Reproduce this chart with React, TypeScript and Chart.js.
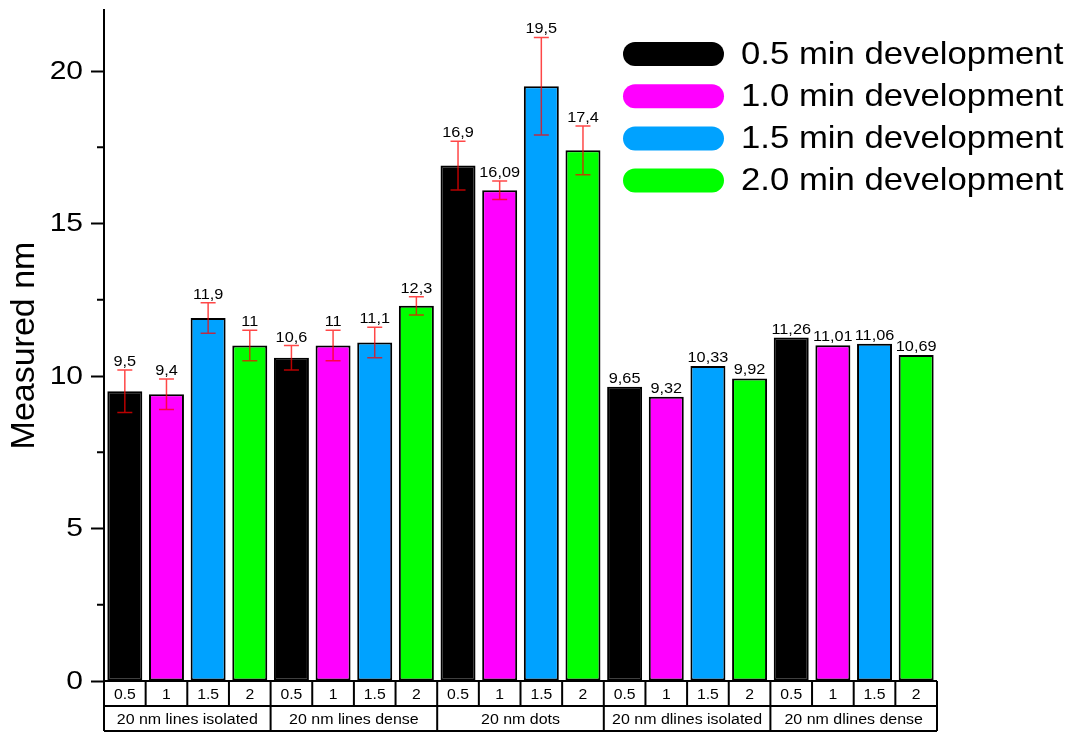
import React, { useEffect, useRef } from 'react';
import { Chart, registerables } from 'chart.js';

Chart.register(...registerables);

// Sample groups and development times
const groups = [
  '20 nm lines isolated',
  '20 nm lines dense',
  '20 nm dots',
  '20 nm dlines isolated',
  '20 nm dlines dense',
];
const devTimes = ['0.5', '1', '1.5', '2'];
const seriesNames = [
  '0.5 min development',
  '1.0 min development',
  '1.5 min development',
  '2.0 min development',
];
const seriesColors = ['#000000', '#ff00ff', '#00a2ff', '#00ff00'];

// Measured sizes (nm) per development time, one value per group
const dev05 = [9.5, 10.6, 16.9, 9.65, 11.26];
const dev10 = [9.4, 11, 16.09, 9.32, 11.01];
const dev15 = [11.9, 11.1, 19.5, 10.33, 11.06];
const dev20 = [11, 12.3, 17.4, 9.92, 10.69];

// Standard deviations (no error measured for the dline samples)
const err05 = [0.7, 0.4, 0.8, null, null];
const err10 = [0.5, 0.5, 0.3, null, null];
const err15 = [0.5, 0.5, 1.6, null, null];
const err20 = [0.5, 0.3, 0.8, null, null];

const yMin = 0;
const yMax = 22;
const yMajorTicks = [0, 5, 10, 15, 20];
const yMinorTicks = [2.5, 7.5, 12.5, 17.5];

const seriesValues = [dev05, dev10, dev15, dev20];
const seriesErrors = [err05, err10, err15, err20];

const FONT = '"Liberation Sans", Arial, Helvetica, sans-serif';

const fmt = (v: number) => String(v).replace('.', ',');

// Draws text stretched horizontally about its anchor
function stretchedText(ctx: CanvasRenderingContext2D, text: string, x: number, y: number, sx: number) {
  ctx.save();
  ctx.translate(x, y);
  ctx.scale(sx, 1);
  ctx.fillText(text, 0, 0);
  ctx.restore();
}

const annotationsPlugin = {
  id: 'annotations',
  afterDatasetsDraw(chart: any) {
    const { ctx, chartArea, scales } = chart;
    const y = scales.y;
    const x = scales.x;
    ctx.save();

    // Error bars and value labels
    seriesValues.forEach((vals, di) => {
      const meta = chart.getDatasetMeta(di);
      meta.data.forEach((bar: any, j: number) => {
        const v = vals[j];
        const e = seriesErrors[di][j];
        const cx = bar.x;
        let labelY = y.getPixelForValue(v);
        if (e != null) {
          const top = y.getPixelForValue(v + e);
          const bot = y.getPixelForValue(v - e);
          ctx.strokeStyle = 'rgba(255,0,0,0.72)';
          ctx.lineWidth = 1.5;
          ctx.beginPath();
          ctx.moveTo(cx, top);
          ctx.lineTo(cx, bot);
          ctx.moveTo(cx - 7.5, top);
          ctx.lineTo(cx + 7.5, top);
          ctx.moveTo(cx - 7.5, bot);
          ctx.lineTo(cx + 7.5, bot);
          ctx.stroke();
          labelY = top;
        }
        ctx.fillStyle = '#000';
        ctx.font = `15.5px ${FONT}`;
        ctx.textAlign = 'center';
        ctx.textBaseline = 'alphabetic';
        stretchedText(ctx, fmt(v), cx, labelY - 4, 1.05);
      });
    });

    // Category table under the axis
    const left = chartArea.left;
    const right = chartArea.right;
    const row0 = chartArea.bottom;
    const row1 = row0 + 25;
    const row2 = row1 + 25;
    const nGroups = groups.length;
    const nSub = devTimes.length;
    const groupW = (right - left) / nGroups;
    const subW = groupW / nSub;

    ctx.strokeStyle = '#000';
    ctx.lineWidth = 2;
    ctx.beginPath();
    ctx.moveTo(left, row0);
    ctx.lineTo(right, row0);
    ctx.moveTo(left, row1);
    ctx.lineTo(right, row1);
    ctx.moveTo(left, row2);
    ctx.lineTo(right, row2);
    for (let k = 0; k <= nGroups * nSub; k++) {
      const xx = left + k * subW;
      ctx.moveTo(xx, row0);
      ctx.lineTo(xx, row1);
    }
    for (let g = 0; g <= nGroups; g++) {
      const xx = left + g * groupW;
      ctx.moveTo(xx, row1);
      ctx.lineTo(xx, row2);
    }
    ctx.stroke();

    ctx.fillStyle = '#000';
    ctx.textAlign = 'center';
    ctx.textBaseline = 'middle';
    groups.forEach((g, gi) => {
      ctx.font = `15px ${FONT}`;
      devTimes.forEach((t, ti) => {
        const cx = left + gi * groupW + (ti + 0.5) * subW;
        stretchedText(ctx, t, cx, (row0 + row1) / 2 + 1, 1.05);
      });
      ctx.font = `15.5px ${FONT}`;
      stretchedText(ctx, g, x.getPixelForValue(gi), (row1 + row2) / 2 + 1, 1.03);
    });

    // Value axis: minor ticks and major tick labels
    ctx.beginPath();
    yMinorTicks.forEach((v) => {
      const py = y.getPixelForValue(v);
      ctx.moveTo(left - 7, py);
      ctx.lineTo(left, py);
    });
    ctx.stroke();

    ctx.font = `25px ${FONT}`;
    ctx.textAlign = 'right';
    ctx.textBaseline = 'middle';
    yMajorTicks.forEach((v) => {
      stretchedText(ctx, String(v), left - 21, y.getPixelForValue(v) + 1, 1.2);
    });

    // Legend with rounded swatches
    const legX = 623;
    const legW = 101;
    const legH = 24;
    const legY0 = 54;
    const legStep = 42.2;
    seriesNames.forEach((name, i) => {
      const cy = legY0 + i * legStep;
      ctx.fillStyle = seriesColors[i];
      ctx.beginPath();
      ctx.roundRect(legX, cy - legH / 2, legW, legH, legH / 2);
      ctx.fill();
      ctx.fillStyle = '#000';
      ctx.font = `32px ${FONT}`;
      ctx.textAlign = 'left';
      ctx.textBaseline = 'middle';
      stretchedText(ctx, name, 741, cy + 1, 1.085);
    });

    ctx.restore();
  },
};

export default function App() {
  const canvasRef = useRef<HTMLCanvasElement | null>(null);

  useEffect(() => {
    const canvas = canvasRef.current;
    if (!canvas) return;
    const chart = new Chart(canvas, {
      type: 'bar',
      data: {
        labels: groups,
        datasets: seriesValues.map((vals, i) => ({
          label: seriesNames[i],
          data: vals,
          backgroundColor: seriesColors[i],
          borderColor: '#000000',
          borderWidth: 2,
          borderSkipped: false,
          categoryPercentage: 1,
          barPercentage: 0.84,
        })),
      },
      options: {
        responsive: false,
        animation: false,
        devicePixelRatio: 1,
        layout: { padding: { left: 0, top: 10, right: 136, bottom: 52 } },
        plugins: {
          legend: { display: false },
          tooltip: { enabled: false },
        },
        scales: {
          x: {
            display: false,
          },
          y: {
            min: yMin,
            max: yMax,
            afterFit: (scale: any) => {
              scale.width = 104;
              scale.paddingTop = 0;
              scale.paddingBottom = 0;
            },
            border: { display: true, color: '#000', width: 2 },
            grid: {
              drawOnChartArea: false,
              drawTicks: true,
              tickLength: 13,
              tickWidth: 2,
              tickColor: '#000',
            },
            afterBuildTicks: (scale: any) => {
              scale.ticks = yMajorTicks.map((v) => ({ value: v }));
            },
            ticks: {
              display: false,
            },
            title: {
              display: true,
              text: 'Measured nm',
              color: '#000',
              font: { family: FONT, size: 34 },
              padding: { top: 4, bottom: 0 },
            },
          },
        },
      },
      plugins: [annotationsPlugin],
    });
    return () => chart.destroy();
  }, []);

  return (
    <div style={{ position: 'fixed', left: 0, top: 0, width: 1073, height: 733, background: '#fff' }}>
      <canvas ref={canvasRef} width={1073} height={733} style={{ width: 1073, height: 733, display: 'block' }} />
    </div>
  );
}
